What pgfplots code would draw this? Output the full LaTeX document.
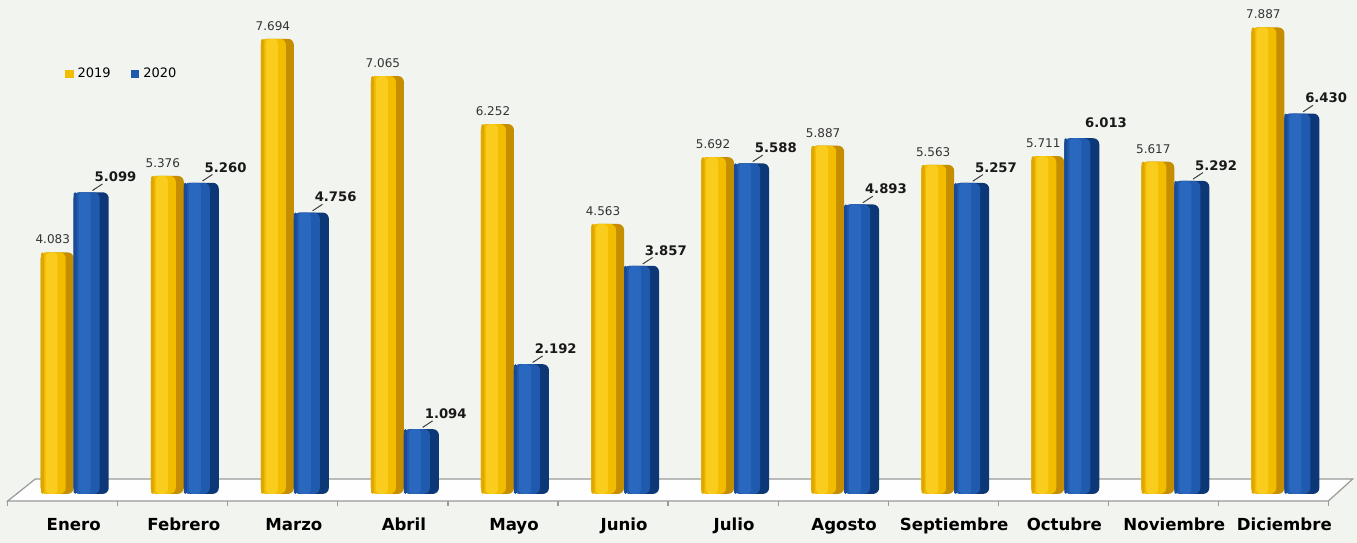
\documentclass[border=0pt]{standalone}
\usepackage{pgfplots}
\usepackage{pgfplotstable}
\pgfplotsset{compat=1.18}
\usepackage{fontspec}
\setmainfont{DejaVu Sans}
\usetikzlibrary{backgrounds}

\definecolor{bg}{HTML}{F2F4F0}
\definecolor{goldM}{HTML}{F2BC00}
\definecolor{goldD}{HTML}{C48E00}
\definecolor{goldL}{HTML}{FACC1E}
\definecolor{goldE}{HTML}{DDA600}
\definecolor{blueM}{HTML}{1F5AAE}
\definecolor{blueD}{HTML}{0D3878}
\definecolor{blueL}{HTML}{2968BE}
\definecolor{blueE}{HTML}{1A4C95}
\definecolor{floorline}{HTML}{9A9A9A}

% idx, 2019, 2020, leader line for the 2020 label (1 = yes)
\pgfplotstableread{
idx y19   y20   lead
0   4.083 5.099 1
1   5.376 5.260 1
2   7.694 4.756 1
3   7.065 1.094 1
4   6.252 2.192 1
5   4.563 3.857 1
6   5.692 5.588 1
7   5.887 4.893 1
8   5.563 5.257 1
9   5.711 6.013 0
10  5.617 5.292 1
11  7.887 6.430 1
}\datatable

\begin{document}
\begin{tikzpicture}[show background rectangle,
    background rectangle/.style={fill=bg, draw=none}, inner frame sep=0pt]
\begin{axis}[
    scale only axis,
    width=660.5pt, height=247pt,
    xmin=-0.5, xmax=11.5,
    ymin=0, ymax=8.35,
    clip=false,
    axis line style={draw=none},
    tick style={draw=none},
    ytick=\empty,
    xtick={0,...,11},
    xticklabels={Enero,Febrero,Marzo,Abril,Mayo,Junio,Julio,Agosto,Septiembre,Octubre,Noviembre,Diciembre},
    typeset ticklabels with strut,
    xticklabel style={font=\fontsize{8.3}{9}\selectfont\bfseries, yshift=-8.5pt},
    /pgf/number format/.cd, fixed, fixed zerofill, precision=3, use period, assume math mode=true,
    /pgfplots/.cd,
    legend style={at={(0.03,0.85)}, anchor=west, draw=none, fill=none,
        font=\fontsize{6.5}{7}\selectfont, legend columns=2,
        /tikz/every even column/.append style={column sep=8pt}},
    legend image code/.code={\fill[#1] (0pt,-2.2pt) rectangle (4.4pt,2.2pt);},
]
% canvas extent
\path (axis cs:-0.67,-0.82) (axis cs:11.66,0);
% floor
\fill[white!92!bg] (axis cs:-0.6,-0.12) -- (axis cs:-0.35,0.25) -- (axis cs:11.62,0.25) -- (axis cs:11.4,-0.12) -- cycle;
\draw[floorline, line width=0.6pt] (axis cs:-0.6,-0.12) -- (axis cs:-0.35,0.25) -- (axis cs:11.62,0.25) -- (axis cs:11.4,-0.12) -- cycle;
\pgfplotsinvokeforeach{-0.6,0.4,1.4,2.4,3.4,4.4,5.4,6.4,7.4,8.4,9.4,10.4,11.4}{
  \draw[floorline, line width=0.6pt] (axis cs:#1,-0.12) -- (axis cs:#1,-0.2);
}

% 2019: layered to look like cylinders
\addplot[ybar, bar width=16.5pt, bar shift=-8.25pt, fill=goldD, draw=none, rounded corners=3pt, forget plot]
  table[x=idx, y=y19] {\datatable};
\addplot[ybar, bar width=12.5pt, bar shift=-10.25pt, fill=goldM, draw=none, rounded corners=3pt, forget plot]
  table[x=idx, y=y19] {\datatable};
\addplot[ybar, bar width=6pt, bar shift=-11pt, fill=goldL, draw=none, rounded corners=2pt, forget plot]
  table[x=idx, y=y19] {\datatable};
\addplot[ybar, bar width=1.5pt, bar shift=-15.6pt, fill=goldE, draw=none, rounded corners=0.7pt, forget plot,
    nodes near coords,
    every node near coord/.append style={font=\fontsize{6}{7}\selectfont, black!80, anchor=south,
        inner sep=1pt, xshift=-10.5pt, yshift=3pt}]
  table[x=idx, y=y19] {\datatable};

% 2020
\addplot[ybar, bar width=17.5pt, bar shift=8.75pt, fill=blueD, draw=none, rounded corners=3pt, forget plot]
  table[x=idx, y=y20] {\datatable};
\addplot[ybar, bar width=13pt, bar shift=6.5pt, fill=blueM, draw=none, rounded corners=3pt, forget plot]
  table[x=idx, y=y20] {\datatable};
\addplot[ybar, bar width=6pt, bar shift=5.5pt, fill=blueL, draw=none, rounded corners=2pt, forget plot]
  table[x=idx, y=y20] {\datatable};
\addplot[ybar, bar width=1.5pt, bar shift=0.75pt, fill=blueE, draw=none, rounded corners=0.7pt, forget plot]
  table[x=idx, y=y20] {\datatable};
% leader lines and labels for 2020
\addplot[quiver={u=\thisrow{u}, v=\thisrow{v}}, black!75, line width=0.5pt, forget plot]
  table[x expr=\thisrow{idx}+0.17, y expr=\thisrow{y20}+0.03,
        create on use/u/.style={create col/expr={0.09*\thisrow{lead}}},
        create on use/v/.style={create col/expr={0.11*\thisrow{lead}}}] {\datatable};
\addplot[only marks, mark=none, forget plot,
    nodes near coords,
    every node near coord/.append style={font=\fontsize{6.6}{8}\selectfont\bfseries, black!90,
        anchor=south west, inner sep=1pt, xshift=1pt, yshift=4pt}]
  table[x expr=\thisrow{idx}+0.15, y=y20] {\datatable};

\addlegendimage{fill=goldM, draw=none}
\addlegendentry{2019}
\addlegendimage{fill=blueM, draw=none}
\addlegendentry{2020}
\end{axis}
\end{tikzpicture}
\end{document}
